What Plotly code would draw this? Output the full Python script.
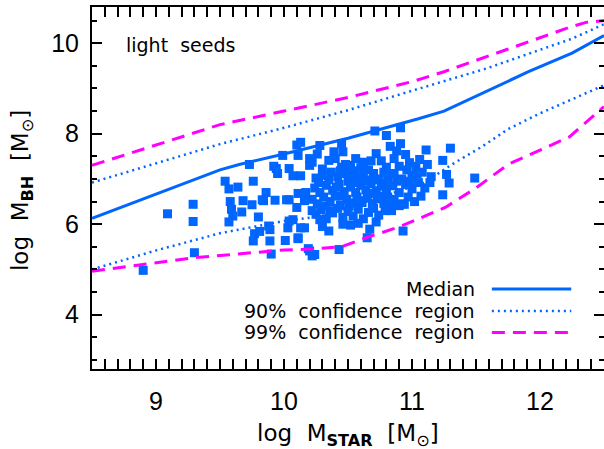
import plotly.graph_objects as go

# ---------------- data ----------------
median_x = [8.5, 9.5, 9.65, 10.0, 10.5, 10.8, 11.05, 11.25, 11.58, 11.91, 12.25, 12.5]
median_y = [6.13, 7.2, 7.32, 7.55, 7.9, 8.13, 8.33, 8.5, 8.93, 9.37, 9.78, 10.17]

up90_x = [8.5, 9.0, 9.5, 10.0, 10.5, 11.06, 11.58, 12.25, 12.5]
up90_y = [6.92, 7.35, 7.77, 8.13, 8.52, 9.0, 9.44, 10.1, 10.42]

lo90_x = [8.5, 9.0, 9.5, 10.0, 10.3, 11.1, 11.3, 11.55, 11.75, 12.0, 12.5]
lo90_y = [5.0, 5.42, 5.80, 6.07, 6.18, 6.92, 7.3, 7.72, 8.1, 8.45, 9.07]

up99_x = [8.5, 9.0, 9.5, 10.0, 10.5, 11.0, 11.25, 11.73, 12.25, 12.36, 12.5]
up99_y = [7.3, 7.75, 8.2, 8.5, 8.8, 9.15, 9.37, 9.85, 10.37, 10.46, 10.5]

lo99_x = [8.5, 9.3, 10.0, 10.2, 10.45, 10.64, 10.9, 11.26, 11.5, 11.75, 12.23, 12.5]
lo99_y = [4.96, 5.26, 5.43, 5.45, 5.50, 5.70, 5.94, 6.37, 6.8, 7.32, 7.93, 8.6]

gal_x = [
    8.90, 9.09, 9.29, 9.29, 9.30, 9.54, 9.57, 9.64, 9.58, 9.59, 9.60, 9.57, 9.68, 9.67, 9.73,
    9.76, 9.75, 9.80, 9.86, 9.84, 9.93, 9.77, 9.76, 9.81, 9.88, 9.89, 9.90, 9.94, 9.95, 9.99,
    10.04, 10.04, 10.01, 10.04, 10.03, 10.07, 10.10, 10.11, 10.11, 10.10, 10.13, 10.11, 10.13,
    10.16, 10.17, 10.20, 10.20, 10.22, 10.20, 10.22, 9.89, 9.83, 9.92, 10.02, 10.07, 10.16,
    10.28, 10.45, 10.46, 10.71, 10.80,
    10.22, 10.30, 10.35, 10.40, 10.45, 10.52, 10.56, 10.62, 10.66, 10.72, 10.76, 10.80,
    10.25, 10.30, 10.35, 10.42, 10.48, 10.50, 10.55, 10.58, 10.62, 10.66, 10.70, 10.74, 10.78, 10.81,
    10.24, 10.28, 10.33, 10.38, 10.43, 10.47, 10.52, 10.56, 10.60, 10.64, 10.68, 10.72, 10.76, 10.80,
    10.22, 10.26, 10.31, 10.36, 10.40, 10.44, 10.49, 10.53, 10.57, 10.61, 10.65, 10.69, 10.73, 10.78, 10.81,
    10.25, 10.29, 10.33, 10.38, 10.42, 10.46, 10.50, 10.54, 10.58, 10.62, 10.66, 10.70, 10.74, 10.79,
    10.30, 10.35, 10.46, 10.52, 10.58, 10.67, 10.65, 10.72,
    10.43, 10.24, 10.19, 10.11,
    10.91, 10.91, 10.83, 10.95, 11.06, 11.11, 10.86, 10.90, 10.86, 10.92, 10.96, 11.00, 11.03,
    11.08, 11.12, 11.15, 10.85, 10.90, 10.95, 11.00, 11.05, 11.10, 11.14, 10.86, 10.92, 10.97,
    11.02, 11.07, 10.84, 10.93, 10.90, 10.94,
    11.24, 11.30, 11.27, 11.29, 11.24, 11.49,
    10.27, 10.32, 10.37, 10.41, 10.45, 10.48, 10.51, 10.55, 10.59, 10.63, 10.67, 10.71, 10.75,
    10.79, 10.82, 10.68, 10.60, 10.53, 10.44, 10.36, 10.28, 10.88, 10.98, 11.04, 10.88, 10.98,
    10.13, 10.26, 10.39, 10.84,
]
gal_y = [
    4.98, 6.23, 6.44, 6.06, 5.37, 6.95, 6.78, 6.82, 6.50, 6.33, 6.18, 6.05, 6.52, 6.27, 7.32,
    6.95, 6.43, 6.16, 6.70, 6.52, 6.53, 5.79, 5.63, 5.84, 5.96, 5.63, 5.34, 7.23, 7.12, 7.52,
    6.54, 7.23, 5.64, 6.07, 5.92, 7.07, 7.75, 7.52, 6.68, 6.37, 5.92, 5.68, 7.07,
    6.52, 6.70, 7.30, 7.45, 6.30, 5.41, 5.30, 5.88, 6.54, 7.28, 6.54, 6.10, 5.92,
    7.74, 7.78, 7.60, 8.06, 7.96,
    7.37, 7.22, 7.41, 7.45, 7.26, 7.30, 7.45, 7.37, 7.20, 7.56, 7.40, 7.26,
    7.02, 7.08, 6.98, 7.05, 7.12, 6.95, 7.18, 7.02, 7.10, 6.96, 7.12, 7.00, 7.15, 6.98,
    6.80, 6.70, 6.86, 6.75, 6.88, 6.72, 6.82, 6.70, 6.86, 6.76, 6.90, 6.74, 6.84, 6.72,
    6.55, 6.45, 6.60, 6.50, 6.62, 6.42, 6.55, 6.47, 6.60, 6.48, 6.58, 6.44, 6.56, 6.46, 6.60,
    6.22, 6.32, 6.12, 6.25, 6.35, 6.15, 6.28, 6.18, 6.33, 6.12, 6.26, 6.35, 6.20, 6.30,
    5.95, 5.85, 6.00, 5.98, 6.02, 5.89, 5.70, 6.05,
    5.44, 5.33, 5.46, 5.70,
    8.13, 7.78, 7.72, 7.54, 7.43, 7.64, 7.45, 7.28, 7.12, 7.00, 7.20, 7.08, 7.28,
    7.15, 7.32, 7.05, 6.85, 6.70, 6.88, 6.78, 6.92, 6.80, 6.92, 6.55, 6.45, 6.60,
    6.50, 6.62, 6.30, 5.85, 6.41, 6.44,
    7.41, 7.68, 7.10, 6.91, 6.65, 7.02,
    6.92, 6.40, 7.15, 6.82, 6.62, 7.32, 6.40, 6.92, 6.52, 6.98, 6.68, 6.98, 6.62,
    6.90, 7.12, 7.40, 7.25, 7.05, 7.18, 6.30, 6.10, 6.95, 6.95, 7.12, 7.62, 7.36,
    7.81, 7.55, 7.60, 6.42,
]

legend_labels = ["Median", "90%&nbsp; confidence&nbsp; region", "99%&nbsp; confidence&nbsp; region"]
label_text = "light&nbsp; seeds"
x_title = "log&nbsp; M<sub><b>STAR</b></sub>&nbsp; [M<sub>⊙</sub>]"
y_title = "log&nbsp; M<sub><b>BH</b></sub>&nbsp; [M<sub>⊙</sub>]"

BLUE = "#0066FF"
MAG = "#FF00FF"
TICKFONT = "Liberation Sans"
TEXTFONT = "DejaVu Sans"

fig = go.Figure()

fig.add_trace(go.Scatter(x=gal_x, y=gal_y, mode="markers",
                         marker=dict(symbol="square", size=9, color=BLUE, line=dict(width=0)),
                         showlegend=False, hoverinfo="skip"))

line_specs = [
    (median_x, median_y, BLUE, "solid", 3),
    (up90_x, up90_y, BLUE, "2px,4px", 2.5),
    (lo90_x, lo90_y, BLUE, "2px,4px", 2.5),
    (up99_x, up99_y, MAG, "13px,8px", 3),
    (lo99_x, lo99_y, MAG, "13px,8px", 3),
]
for xs, ys, col, dash, w in line_specs:
    fig.add_trace(go.Scatter(x=xs, y=ys, mode="lines",
                             line=dict(color=col, dash=dash, width=w),
                             showlegend=False, hoverinfo="skip"))

# empty trace so that the right-hand tick axis is created
fig.add_trace(go.Scatter(x=[], y=[], yaxis="y2", showlegend=False, hoverinfo="skip"))

# legend drawn as text + sample lines (text right-aligned, sample on the right)
leg_rows_y = [0.221, 0.160, 0.101]
leg_styles = [(BLUE, "solid", 3), (BLUE, "2px,4px", 2.5), (MAG, "13px,8px", 3)]
for lab, yy, (col, dash, w) in zip(legend_labels, leg_rows_y, leg_styles):
    fig.add_annotation(x=0.752, y=yy, xref="paper", yref="paper", text=lab,
                       showarrow=False, xanchor="right", yanchor="middle",
                       font=dict(family=TEXTFONT, size=19, color="black"))
    fig.add_shape(type="line", xref="paper", yref="paper", x0=0.781, x1=0.936, y0=yy, y1=yy,
                  line=dict(color=col, dash=dash, width=w))

fig.add_annotation(x=0.062, y=0.895, xref="paper", yref="paper", text=label_text,
                   showarrow=False, xanchor="left", yanchor="middle",
                   font=dict(family=TEXTFONT, size=19, color="black"))

# axis titles
fig.add_annotation(x=0.5, y=-0.182, xref="paper", yref="paper", text=x_title,
                   showarrow=False, xanchor="center", yanchor="middle",
                   font=dict(family=TEXTFONT, size=23, color="black"))
fig.add_annotation(x=-0.137, y=0.494, xref="paper", yref="paper", text=y_title,
                   showarrow=False, xanchor="center", yanchor="middle", textangle=-90,
                   font=dict(family=TEXTFONT, size=23, color="black"))

axis_common = dict(
    ticks="inside", tickcolor="black", tickwidth=2, ticklen=10,
    showgrid=False, zeroline=False, automargin=False,
    tickfont=dict(family=TICKFONT, size=25, color="black"),
)

fig.update_layout(
    width=604, height=449,
    margin=dict(l=92, r=0, t=7, b=80),
    paper_bgcolor="white", plot_bgcolor="white",
    showlegend=False,
    xaxis=dict(range=[8.5, 12.5], tick0=9, dtick=1, showline=True, linecolor="black", linewidth=2,
               mirror="allticks",
               minor=dict(dtick=0.1, ticklen=5, tickwidth=2, tickcolor="black", ticks="inside"),
               ticklabelstandoff=9,
               **axis_common),
    yaxis=dict(range=[2.8, 10.8], tick0=0, dtick=2, showline=True, linecolor="black", linewidth=2,
               mirror=False,
               minor=dict(dtick=0.5, ticklen=5, tickwidth=2, tickcolor="black", ticks="inside"),
               ticklabelstandoff=6,
               **axis_common),
    yaxis2=dict(range=[2.8, 10.8], overlaying="y", side="right", tick0=0, dtick=2,
                showline=False, showticklabels=False, automargin=False,
                minor=dict(dtick=0.5, ticklen=5, tickwidth=2, tickcolor="black", ticks="inside"),
                ticks="inside", tickcolor="black", tickwidth=2, ticklen=10,
                showgrid=False, zeroline=False),
)

fig.write_html("out.html",
               config={"displayModeBar": False},
               post_script="document.body.style.margin='0';document.body.style.padding='0';")
